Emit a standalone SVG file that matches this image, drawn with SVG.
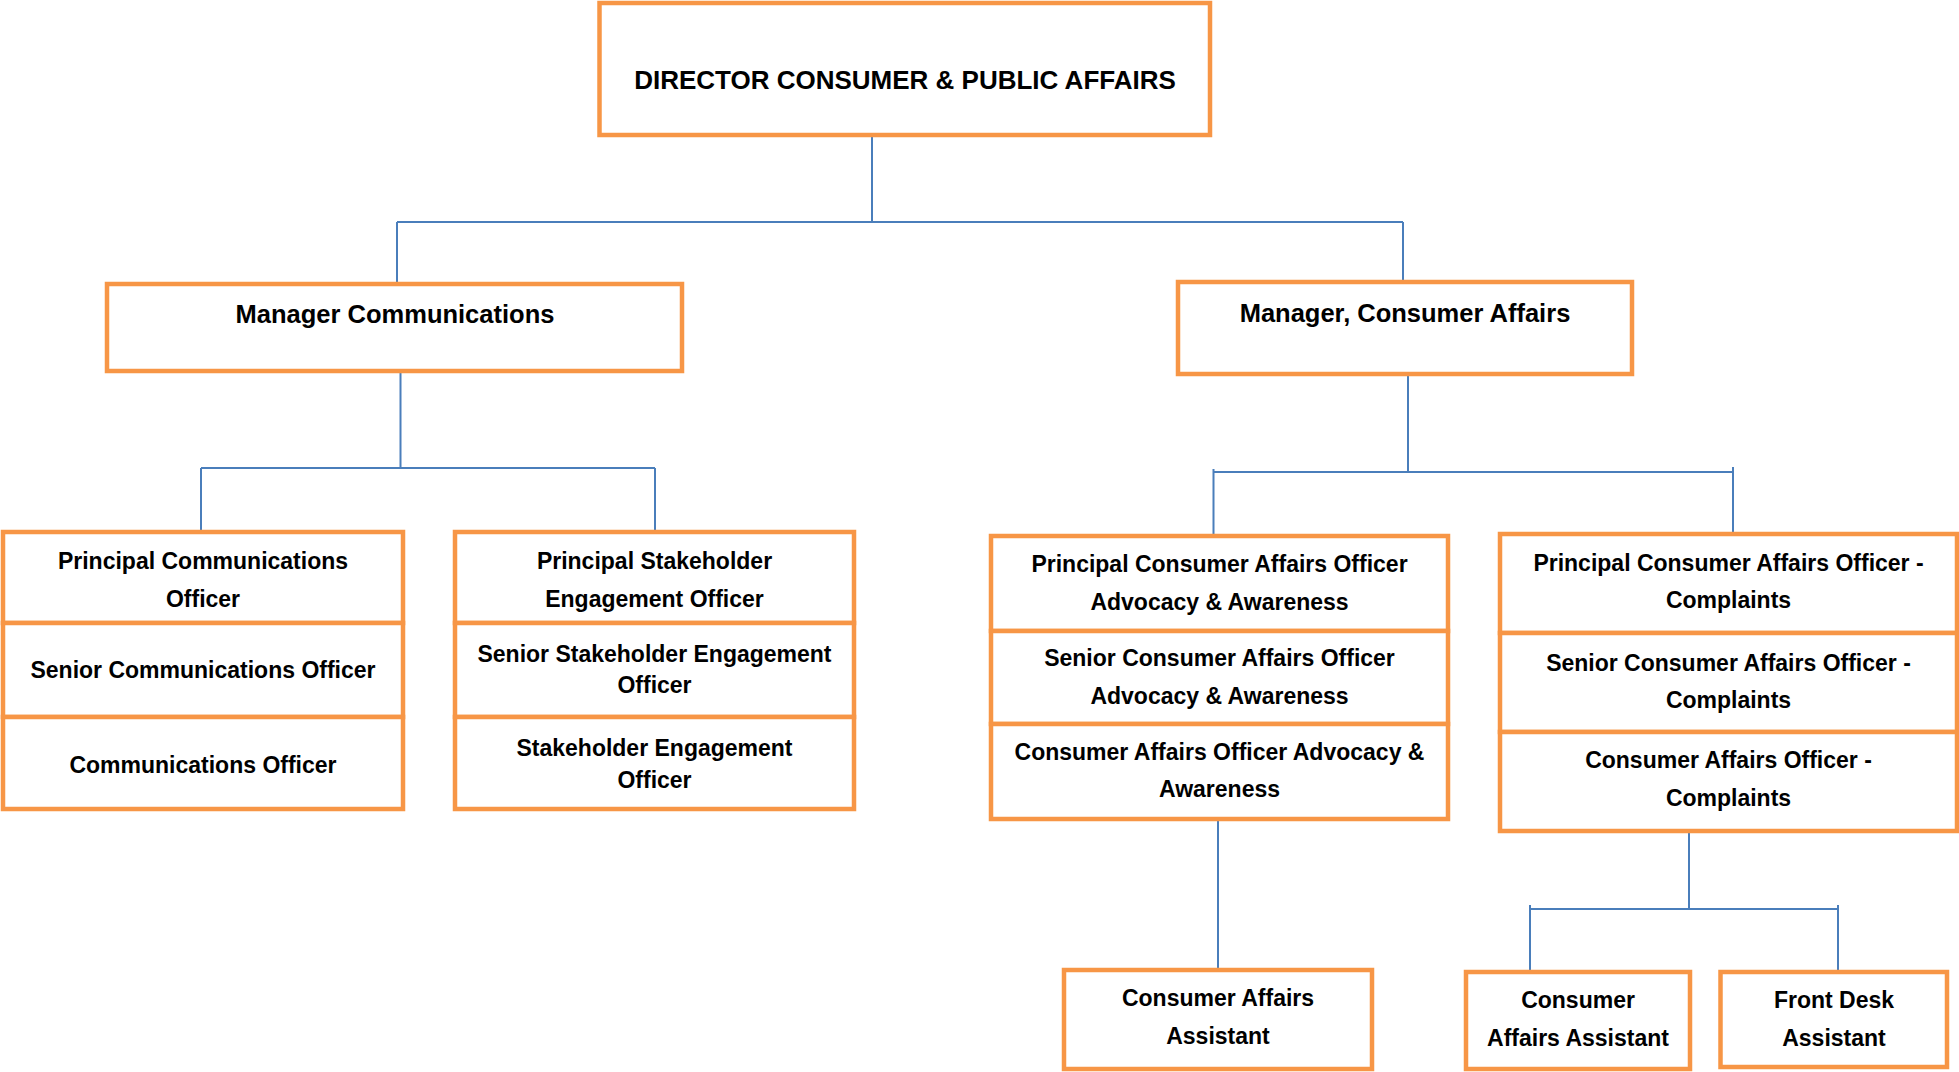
<svg xmlns="http://www.w3.org/2000/svg" width="1959" height="1072" viewBox="0 0 1959 1072">
<style>
.box{fill:#ffffff;stroke:#F79646;stroke-width:4.5}
.t{font-family:"Liberation Sans",Arial,sans-serif;font-weight:bold;fill:#000000;text-anchor:middle;font-size:23px}
.tl{font-size:25.5px}
.tt{font-size:26px}
.con{fill:none;stroke:#4A7EBB;stroke-width:2}
</style>
<rect x="0" y="0" width="1959" height="1072" fill="#ffffff"/>
<g id="connectors">
<path class="con" d="M872,135 V222 M397,222 H1403 M397,222 V284 M1403,222 V282"/>
<path class="con" d="M400.5,372 V468 M201,468 H655 M201,468 V532 M655,468 V532"/>
<path class="con" d="M1408,374 V472 M1213.5,472 H1733 M1213.5,469 V536 M1733,467 V534"/>
<path class="con" d="M1218,819 V970"/>
<path class="con" d="M1689,832 V909 M1530,909 H1838 M1530,905 V972 M1838,905 V972"/>
</g>
<g id="director">
<rect class="box" x="599.5" y="3" width="610.5" height="132"/>
<text class="t tt" x="905" y="89">DIRECTOR CONSUMER &amp; PUBLIC AFFAIRS</text>
</g>
<g id="manager-communications">
<rect class="box" x="107" y="284" width="575" height="87"/>
<text class="t tl" x="395" y="323">Manager Communications</text>
</g>
<g id="manager-consumer-affairs">
<rect class="box" x="1178" y="282" width="454" height="92"/>
<text class="t tl" x="1405" y="322">Manager, Consumer Affairs</text>
</g>
<g id="principal-communications-officer">
<rect class="box" x="3" y="532" width="400" height="91"/>
<text class="t" x="203" y="569">Principal Communications</text>
<text class="t" x="203" y="607">Officer</text>
</g>
<g id="senior-communications-officer">
<rect class="box" x="3" y="623" width="400" height="94"/>
<text class="t" x="203" y="678">Senior Communications Officer</text>
</g>
<g id="communications-officer">
<rect class="box" x="3" y="717" width="400" height="92"/>
<text class="t" x="203" y="773">Communications Officer</text>
</g>
<g id="principal-stakeholder-engagement-officer">
<rect class="box" x="455" y="532" width="399" height="91"/>
<text class="t" x="654.5" y="569">Principal Stakeholder</text>
<text class="t" x="654.5" y="607">Engagement Officer</text>
</g>
<g id="senior-stakeholder-engagement-officer">
<rect class="box" x="455" y="623" width="399" height="94"/>
<text class="t" x="654.5" y="662">Senior Stakeholder Engagement</text>
<text class="t" x="654.5" y="693">Officer</text>
</g>
<g id="stakeholder-engagement-officer">
<rect class="box" x="455" y="717" width="399" height="92"/>
<text class="t" x="654.5" y="756">Stakeholder Engagement</text>
<text class="t" x="654.5" y="788">Officer</text>
</g>
<g id="principal-cao-advocacy">
<rect class="box" x="991" y="536" width="457" height="95"/>
<text class="t" x="1219.5" y="572">Principal Consumer Affairs Officer</text>
<text class="t" x="1219.5" y="610">Advocacy &amp; Awareness</text>
</g>
<g id="senior-cao-advocacy">
<rect class="box" x="991" y="631" width="457" height="93"/>
<text class="t" x="1219.5" y="666">Senior Consumer Affairs Officer</text>
<text class="t" x="1219.5" y="704">Advocacy &amp; Awareness</text>
</g>
<g id="cao-advocacy">
<rect class="box" x="991" y="724" width="457" height="95"/>
<text class="t" x="1219.5" y="760">Consumer Affairs Officer Advocacy &amp;</text>
<text class="t" x="1219.5" y="797">Awareness</text>
</g>
<g id="principal-cao-complaints">
<rect class="box" x="1500" y="534" width="457" height="99"/>
<text class="t" x="1728.5" y="571">Principal Consumer Affairs Officer -</text>
<text class="t" x="1728.5" y="608">Complaints</text>
</g>
<g id="senior-cao-complaints">
<rect class="box" x="1500" y="633" width="457" height="99"/>
<text class="t" x="1728.5" y="671">Senior Consumer Affairs Officer -</text>
<text class="t" x="1728.5" y="708">Complaints</text>
</g>
<g id="cao-complaints">
<rect class="box" x="1500" y="732" width="457" height="99"/>
<text class="t" x="1728.5" y="768">Consumer Affairs Officer -</text>
<text class="t" x="1728.5" y="806">Complaints</text>
</g>
<g id="consumer-affairs-assistant-1">
<rect class="box" x="1064" y="970" width="308" height="99"/>
<text class="t" x="1218" y="1006">Consumer Affairs</text>
<text class="t" x="1218" y="1044">Assistant</text>
</g>
<g id="consumer-affairs-assistant-2">
<rect class="box" x="1466" y="972" width="224" height="97"/>
<text class="t" x="1578" y="1008">Consumer</text>
<text class="t" x="1578" y="1046">Affairs Assistant</text>
</g>
<g id="front-desk-assistant">
<rect class="box" x="1720.5" y="972" width="226.5" height="95"/>
<text class="t" x="1834" y="1008">Front Desk</text>
<text class="t" x="1834" y="1046">Assistant</text>
</g>
</svg>
